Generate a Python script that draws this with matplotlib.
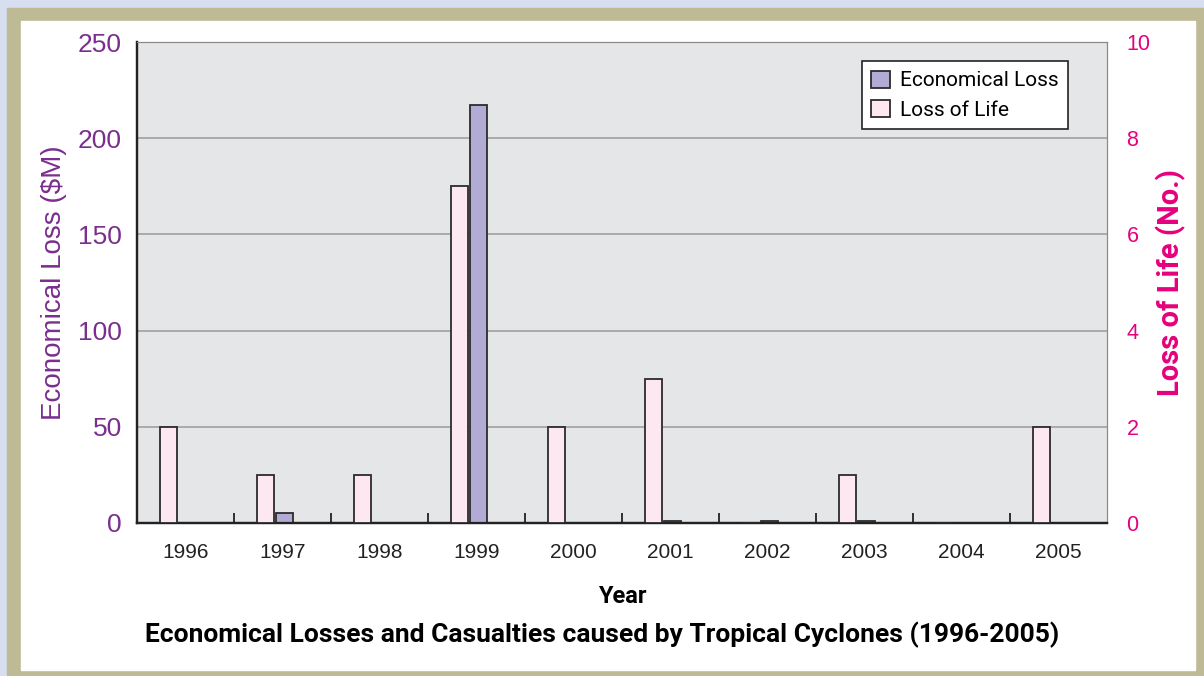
import numpy as np
import matplotlib
matplotlib.use("Agg")
import matplotlib.pyplot as plt
from matplotlib.patches import Rectangle

years = ['1996', '1997', '1998', '1999', '2000', '2001', '2002', '2003', '2004', '2005']
econ_loss = [0, 5, 0, 217, 0, 1, 1, 1, 0, 0]      # $M
life_loss = [2, 1, 1, 7, 2, 3, 0, 1, 0, 2]         # No.

purple_txt = '#7a2e8e'
magenta = '#e6007e'
bar_purple = '#b1abd5'
bar_pink = '#fde7f0'
narrow = ['Roboto', 'DejaVu Sans']
plt.rcParams['font.family'] = ['Liberation Sans', 'DejaVu Sans']

fig = plt.figure(figsize=(12.04, 6.76), dpi=100)
fig.patch.set_facecolor('#d6def0')

# background frame: tan border, white panel
bg = fig.add_axes([0, 0, 1, 1], zorder=-5)
bg.set_xlim(0, 1204)
bg.set_ylim(676, 0)
bg.axis('off')
bg.add_patch(Rectangle((7, 8), 1197, 668, color='#bfba96'))
bg.add_patch(Rectangle((21, 21), 1174, 649, color='white'))

ax = fig.add_axes([137/1204, 1 - 523/676, 970/1204, 481/676])
ax.set_facecolor('#e5e6e8')
ax2 = ax.twinx()

x = np.arange(len(years))
w = 0.17
ax2.bar(x - 0.175, life_loss, width=w, color=bar_pink, edgecolor='#2b2b2b', linewidth=1.3,
        label='Loss of Life', zorder=3)
ax.bar(x + 0.02, econ_loss, width=w, color=bar_purple, edgecolor='#2b2b2b', linewidth=1.3,
       label='Economical Loss', zorder=3)

ax.set_xlim(-0.5, len(years) - 0.5)
ax.set_ylim(0, 250)
ax2.set_ylim(0, 10)
ax.set_yticks([0, 50, 100, 150, 200, 250])
ax2.set_yticks([0, 2, 4, 6, 8, 10])
ax.yaxis.grid(True, color='#9a9a9a', linewidth=1.1)
ax.set_axisbelow(True)

ax.set_xticks(x)
ax.set_xticklabels(years, fontsize=15, color='#222222')
ax.set_xticks(np.arange(0.5, len(years) - 1, 1), minor=True)
ax.tick_params(axis='x', which='major', length=0, pad=14.5)
ax.tick_params(axis='x', which='minor', direction='in', length=7, width=1.3, color='#222222')
ax.tick_params(axis='y', direction='in', length=0, labelsize=19, labelcolor=purple_txt, pad=11)
ax2.tick_params(axis='y', direction='in', length=0, labelsize=15.5, labelcolor=magenta, pad=14)

for a in (ax, ax2):
    a.spines['left'].set_color('#222222')
    a.spines['left'].set_linewidth(1.6)
    a.spines['bottom'].set_color('#222222')
    a.spines['bottom'].set_linewidth(1.6)
    a.spines['top'].set_color('#8a8a8a')
    a.spines['right'].set_color('#8a8a8a')

ax.set_ylabel('Economical Loss ($M)', fontsize=20, color=purple_txt, labelpad=8)
ax2.set_ylabel('Loss of Life (No.)', fontsize=21, color=magenta, fontweight='bold',
               family=narrow, labelpad=4)
ax.set_xlabel('Year', fontsize=17, fontweight='bold', family=narrow, labelpad=16.5)
fig.text(0.5, 1 - 635/676, 'Economical Losses and Casualties caused by Tropical Cyclones (1996-2005)',
         ha='center', va='center', fontsize=19, fontweight='bold', family=narrow)

h1, l1 = ax.get_legend_handles_labels()
h2, l2 = ax2.get_legend_handles_labels()
leg = ax2.legend(h1 + h2, l1 + l2, loc='upper right', bbox_to_anchor=(0.96, 0.96),
                 borderaxespad=0, fancybox=False, edgecolor='#222222', framealpha=1,
                 prop={'family': narrow, 'size': 15}, handlelength=0.9, handleheight=0.9,
                 borderpad=0.45, labelspacing=0.45, handletextpad=0.5)
leg.get_frame().set_linewidth(1.2)

fig.savefig('out.png', dpi=100, facecolor=fig.get_facecolor())
